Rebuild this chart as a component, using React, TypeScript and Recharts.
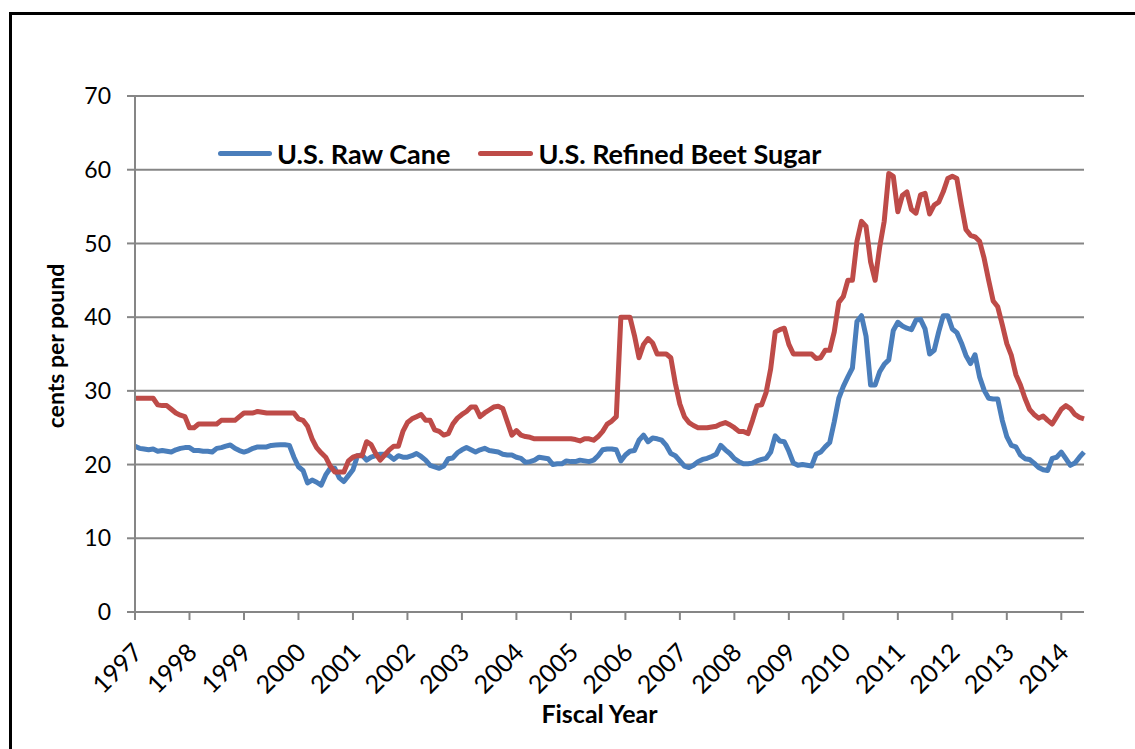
import React from "react";
import { LineChart, Line, XAxis, YAxis, CartesianGrid, Legend } from "recharts";

// Fiscal year tick labels (one tick every 12 months)
const years = ["1997", "1998", "1999", "2000", "2001", "2002", "2003", "2004", "2005", "2006", "2007", "2008", "2009", "2010", "2011", "2012", "2013", "2014"];

// U.S. Refined Beet Sugar, cents per pound, monthly (one row per fiscal year)
const beetSugar = [
  29, 29, 29, 29, 29, 28.1, 28, 28, 27.5, 27, 26.7, 26.5,
  25, 25, 25.5, 25.5, 25.5, 25.5, 25.5, 26, 26, 26, 26, 26.5,
  27, 27, 27, 27.2, 27.1, 27, 27, 27, 27, 27, 27, 27,
  26.2, 26, 25.2, 23.5, 22.3, 21.6, 21, 19.8, 19, 19, 19, 20.5,
  21, 21.2, 21.2, 23.1, 22.7, 21.5, 20.6, 21.3, 22, 22.5, 22.5, 24.5,
  25.7, 26.2, 26.5, 26.8, 26, 26, 24.7, 24.5, 24, 24.2, 25.5, 26.3,
  26.8, 27.2, 27.8, 27.8, 26.5, 27, 27.4, 27.8, 27.9, 27.6, 25.8, 24,
  24.6, 24, 23.8, 23.7, 23.5, 23.5, 23.5, 23.5, 23.5, 23.5, 23.5, 23.5,
  23.5, 23.4, 23.2, 23.5, 23.5, 23.3, 23.8, 24.5, 25.5, 25.9, 26.5, 40,
  40, 40, 37.5, 34.5, 36.3, 37.1, 36.5, 35, 35, 35, 34.5, 31,
  28.2, 26.5, 25.7, 25.3, 25, 25, 25, 25.1, 25.2, 25.5, 25.7, 25.4,
  25, 24.5, 24.5, 24.2, 26, 28, 28.1, 29.8, 33, 38, 38.3, 38.5,
  36.3, 35, 35, 35, 35, 35, 34.4, 34.5, 35.5, 35.5, 38, 42,
  42.8, 45, 45, 50.3, 53, 52.3, 47.5, 45, 49.5, 53, 59.5, 59.1,
  54.3, 56.5, 57, 54.6, 54.1, 56.6, 56.8, 54, 55.2, 55.6, 57, 58.8,
  59.1, 58.8, 55.2, 51.9, 51.1, 50.9, 50.3, 48, 45, 42.2, 41.4, 39,
  36.4, 34.8, 32.2, 30.8, 29, 27.5, 26.8, 26.3, 26.6, 26, 25.5, 26.5,
  27.5, 28, 27.6, 26.8, 26.4, 26.2,
];

// U.S. Raw Cane, cents per pound, monthly
const rawCane = [
  22.5, 22.2, 22.1, 22, 22.1, 21.8, 21.9, 21.8, 21.7, 22, 22.2, 22.3,
  22.3, 21.9, 21.9, 21.8, 21.8, 21.7, 22.2, 22.3, 22.5, 22.65, 22.2, 21.9,
  21.7, 21.9, 22.2, 22.4, 22.4, 22.4, 22.6, 22.65, 22.7, 22.7, 22.6, 21,
  19.7, 19.2, 17.5, 17.9, 17.6, 17.2, 18.6, 19.5, 19.5, 18.2, 17.7, 18.5,
  19.3, 21.2, 21.3, 20.6, 21, 21.2, 21.4, 21.4, 21.2, 20.7, 21.2, 21,
  21, 21.2, 21.5, 21.1, 20.6, 19.9, 19.7, 19.5, 19.8, 20.8, 20.9, 21.6,
  22, 22.3, 22, 21.7, 22, 22.2, 21.9, 21.8, 21.7, 21.4, 21.3, 21.3,
  21, 20.85, 20.3, 20.4, 20.6, 21, 20.9, 20.8, 20, 20.1, 20.1, 20.5,
  20.4, 20.4, 20.6, 20.5, 20.4, 20.6, 21.2, 22, 22.1, 22.1, 22, 20.5,
  21.3, 21.8, 21.9, 23.3, 24, 23.1, 23.6, 23.5, 23.3, 22.6, 21.5, 21.2,
  20.5, 19.8, 19.6, 19.9, 20.4, 20.7, 20.85, 21.1, 21.4, 22.6, 22, 21.5,
  20.8, 20.4, 20.1, 20.1, 20.2, 20.5, 20.7, 20.85, 21.7, 23.9, 23.2, 23.1,
  21.8, 20.2, 19.9, 20, 19.9, 19.8, 21.4, 21.7, 22.4, 23, 25.8, 29,
  30.6, 31.9, 33.1, 39.4, 40.2, 37.4, 30.8, 30.8, 32.6, 33.6, 34.2, 38.2,
  39.3, 38.8, 38.5, 38.3, 39.6, 39.7, 38.4, 35, 35.5, 38, 40.2, 40.2,
  38.4, 37.9, 36.5, 34.8, 33.7, 34.9, 31.9, 30.1, 29, 28.9, 28.9, 26,
  23.8, 22.6, 22.4, 21.3, 20.8, 20.7, 20.2, 19.6, 19.3, 19.2, 20.85, 21,
  21.7, 20.8, 19.9, 20.2, 21, 21.7,
];

const yTicks = [0, 10, 20, 30, 40, 50, 60, 70];

const data = beetSugar.map((b, i) => ({ m: i, beet: b, raw: rawCane[i] }));
const xTicks = years.map((_, i) => i * 12);

const BLUE = "#4A7EBB";
const RED = "#BE4B48";
const GRID = "#868686";
const FONT = "Lato, 'Open Sans', sans-serif";

const YearTick = (props: any) => {
  const { x, y, payload } = props;
  const label = years[Math.round(payload.value / 12)];
  const ax = x + 9;
  const ay = y + 32;
  return (
    <text x={ax} y={ay} transform={`rotate(-45, ${ax}, ${ay})`} textAnchor="end" fontSize={25} fontFamily={FONT} fill="#000">
      {label}
    </text>
  );
};

const LegendBox = () => (
  <div style={{ display: "flex", alignItems: "center", fontFamily: FONT, fontWeight: 700, fontSize: 27, color: "#000", whiteSpace: "nowrap" }}>
    <span style={{ display: "inline-block", width: 54, height: 5, borderRadius: 3, background: BLUE, marginRight: 5 }} />
    <span style={{ marginRight: 28 }}>U.S. Raw Cane</span>
    <span style={{ display: "inline-block", width: 55, height: 5, borderRadius: 3, background: RED, marginRight: 5 }} />
    <span>U.S. Refined Beet Sugar</span>
  </div>
);

export default function App() {
  return (
    <div style={{ position: "absolute", left: 0, top: 0, width: 1135, height: 749, overflow: "hidden", background: "#fff" }}>
      {/* Rahmen, rechts und unten abgeschnitten */}
      <div style={{ position: "absolute", left: 9, top: 12, width: 1200, height: 800, border: "3px solid #000" }} />
      <div style={{ position: "absolute", left: 0, top: 0 }}>
        <LineChart width={1135} height={749} data={data} margin={{ top: 96, right: 51, bottom: 0, left: 0 }}>
          <CartesianGrid vertical={false} stroke={GRID} strokeWidth={2} />
          <XAxis
            dataKey="m"
            type="number"
            domain={[0, 209]}
            ticks={xTicks}
            interval={0}
            height={137}
            tick={<YearTick />}
            tickSize={8}
            tickLine={{ stroke: GRID, strokeWidth: 2 }}
            axisLine={{ stroke: GRID, strokeWidth: 2 }}
            label={(p: any) => {
              const vb = p.viewBox;
              return (
                <text x={vb.x + vb.width / 2 - 10} y={723} textAnchor="middle" fontSize={25} fontWeight={700} fontFamily={FONT} fill="#000">
                  Fiscal Year
                </text>
              );
            }}
          />
          <YAxis
            domain={[0, 70]}
            ticks={yTicks}
            width={135}
            tickSize={8}
            tickMargin={16}
            tick={{ fontSize: 23, fontFamily: FONT, fill: "#000" }}
            tickLine={{ stroke: GRID, strokeWidth: 2 }}
            axisLine={{ stroke: GRID, strokeWidth: 2 }}
            label={(p: any) => {
              const vb = p.viewBox;
              const cy = vb.y + vb.height / 2 - 8;
              return (
                <text x={55} y={cy} transform={`rotate(-90, 55, ${cy})`} textAnchor="middle" dominantBaseline="central" fontSize={23} fontWeight={700} fontFamily={FONT} fill="#000">
                  cents per pound
                </text>
              );
            }}
          />
          <Legend verticalAlign="middle" align="center" content={<LegendBox />} wrapperStyle={{ top: 137, left: 218, width: "auto" }} />
          <Line type="linear" dataKey="raw" name="U.S. Raw Cane" stroke={BLUE} strokeWidth={5} dot={false} strokeLinejoin="round" isAnimationActive={false} />
          <Line type="linear" dataKey="beet" name="U.S. Refined Beet Sugar" stroke={RED} strokeWidth={5} dot={false} strokeLinejoin="round" isAnimationActive={false} />
        </LineChart>
      </div>
    </div>
  );
}
